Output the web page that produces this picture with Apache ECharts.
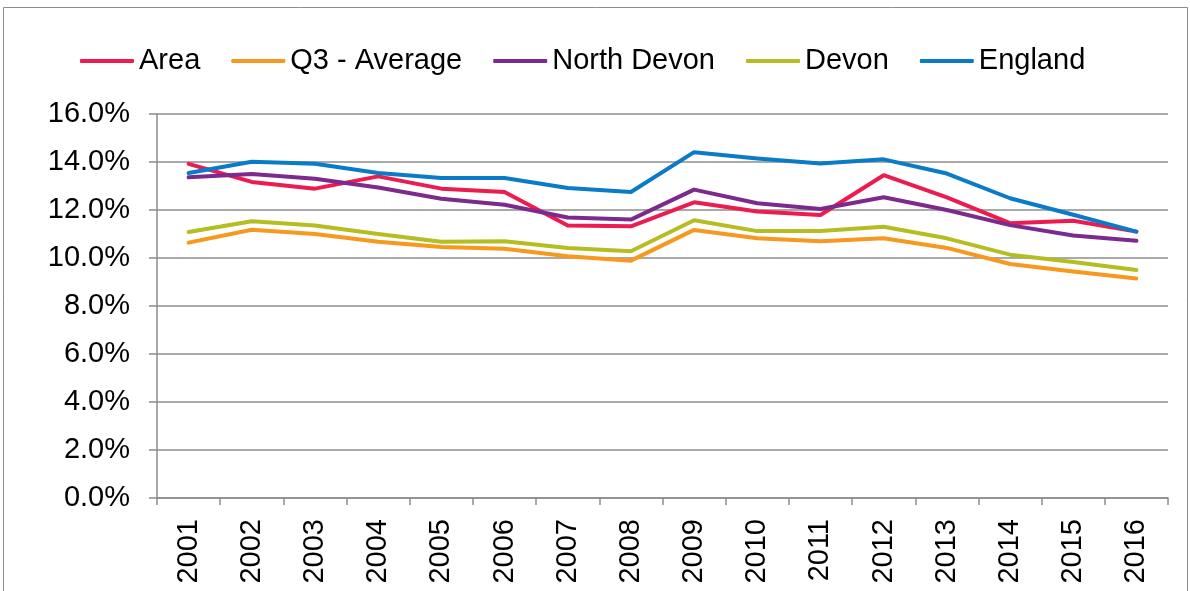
<!DOCTYPE html>
<html>
<head>
<meta charset="utf-8">
<script src="https://cdn.jsdelivr.net/npm/echarts@6/dist/echarts.min.js"></script>
<style>
    html, body { margin: 0; padding: 0; background: #fff; }
    #chart { width: 1190px; height: 591px; }
</style>
</head>
<body>
<div id="chart"></div>
<script>
"use strict";
// years along the x axis
const years = ['2001', '2002', '2003', '2004', '2005', '2006', '2007', '2008',
    '2009', '2010', '2011', '2012', '2013', '2014', '2015', '2016'];
// values in percent
const area = [13.92, 13.17, 12.89, 13.40, 12.89, 12.75, 11.35, 11.32, 12.32, 11.94, 11.79, 13.45, 12.53, 11.45, 11.55, 11.10];
const q3Average = [10.64, 11.18, 11.00, 10.68, 10.46, 10.39, 10.07, 9.89, 11.17, 10.82, 10.70, 10.82, 10.42, 9.75, 9.44, 9.15];
const northDevon = [13.36, 13.50, 13.30, 12.94, 12.47, 12.22, 11.69, 11.60, 12.85, 12.28, 12.04, 12.53, 12.00, 11.37, 10.94, 10.72];
const devon = [11.08, 11.53, 11.35, 11.00, 10.68, 10.70, 10.42, 10.28, 11.57, 11.12, 11.12, 11.30, 10.82, 10.14, 9.83, 9.50];
const england = [13.54, 14.01, 13.93, 13.54, 13.33, 13.33, 12.92, 12.75, 14.41, 14.15, 13.94, 14.11, 13.52, 12.49, 11.80, 11.10];

(() => {
    let chart = echarts.init(document.getElementById('chart'));
    let font = 'Liberation Sans, Arial, sans-serif';
    let mk = (name, data, color) => ({
        name: name,
        type: 'line',
        data: data,
        symbol: 'none',
        color: color,
        lineStyle: { width: 4, color: color, cap: 'round', join: 'round' },
        emphasis: { disabled: true }
    });
    let option = {
        animation: false,
        graphic: [{
            type: 'rect',
            shape: { x: 3.5, y: 7.5, width: 1184, height: 600 },
            style: { fill: 'none', stroke: '#8c8c8c', lineWidth: 1 },
            silent: true
        }],
        legend: {
            left: 80,
            top: 46,
            padding: 0,
            icon: 'roundRect',
            itemWidth: 54,
            itemHeight: 4,
            itemGap: 31,
            textStyle: { fontFamily: font, fontSize: 29, color: '#000', lineHeight: 30 },
            data: ['Area', 'Q3 - Average', 'North Devon', 'Devon', 'England']
        },
        grid: { left: 157, right: 22, top: 114, bottom: 93, containLabel: false },
        xAxis: {
            type: 'category',
            data: years,
            boundaryGap: true,
            axisLine: { lineStyle: { color: '#8c8c8c', width: 1.5 } },
            axisTick: { show: true, length: 7, alignWithLabel: false, lineStyle: { color: '#8c8c8c', width: 1.5 } },
            axisLabel: { rotate: 90, margin: 21, fontFamily: font, fontSize: 29, color: '#000', interval: 0 }
        },
        yAxis: {
            type: 'value',
            min: 0,
            max: 16,
            interval: 2,
            axisLine: { show: true, lineStyle: { color: '#8c8c8c', width: 1.5 } },
            axisTick: { show: true, length: 8, lineStyle: { color: '#8c8c8c', width: 1.5 } },
            axisLabel: {
                margin: 27,
                fontFamily: font,
                fontSize: 29,
                color: '#000',
                formatter: v => v.toFixed(1) + '%'
            },
            splitLine: { lineStyle: { color: '#8c8c8c', width: 1.5 } }
        },
        series: [
            mk('Area', area, '#EC1B50'),
            mk('Q3 - Average', q3Average, '#F7981F'),
            mk('North Devon', northDevon, '#7D2A8F'),
            mk('Devon', devon, '#B4BE21'),
            mk('England', england, '#0A7BC9')
        ]
    };
    chart.setOption(option);
})();
</script>
</body>
</html>
